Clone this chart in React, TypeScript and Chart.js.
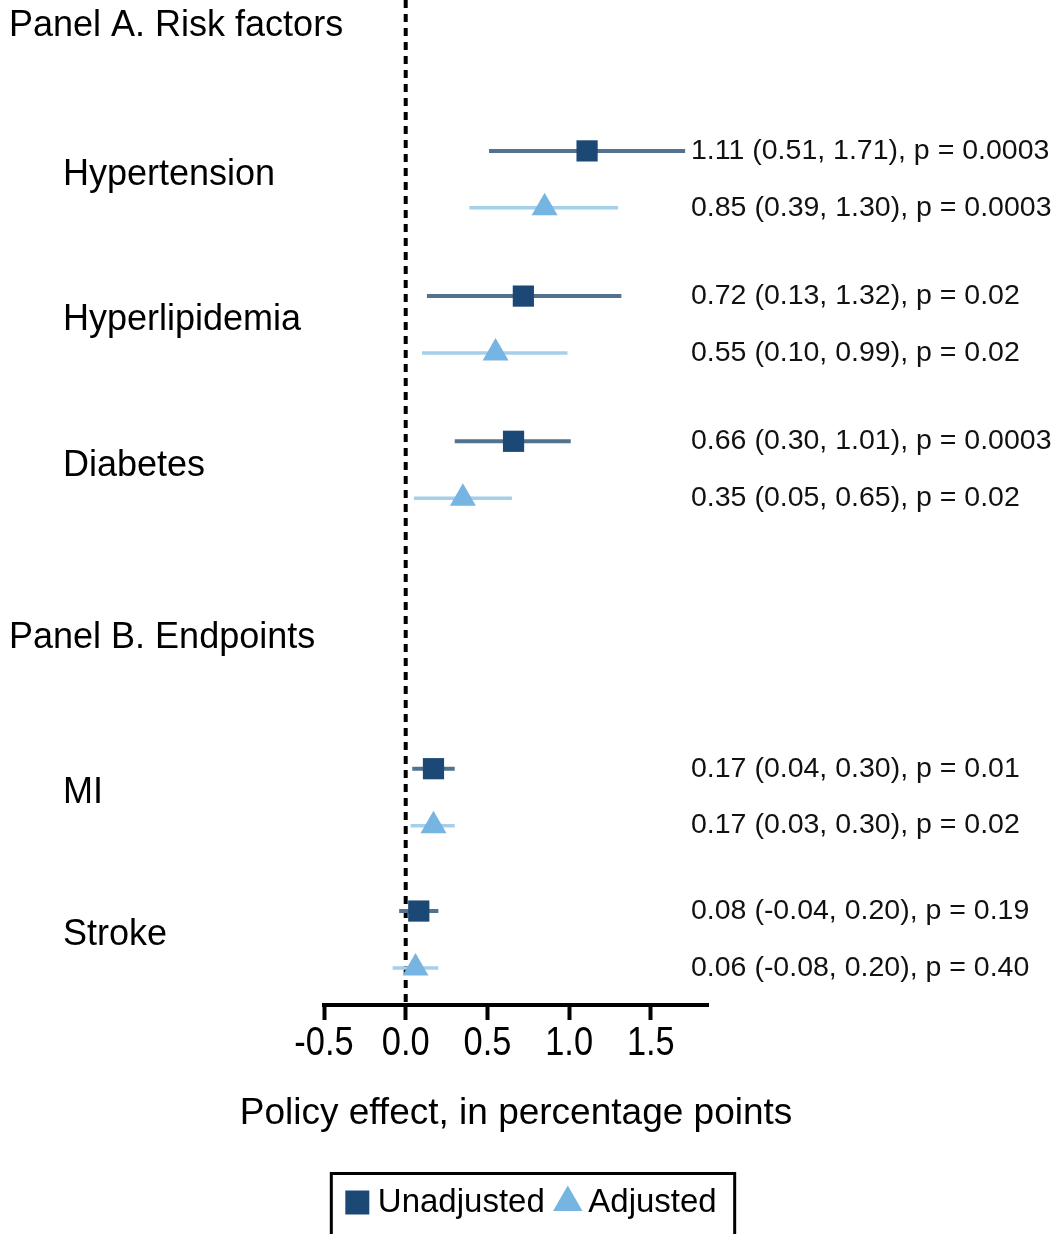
import React, { useEffect, useRef } from 'react';
import { Chart, registerables } from 'chart.js';

Chart.register(...registerables);

// ---- Data ----
const panelLabels = ['Panel A. Risk factors', 'Panel B. Endpoints'];
const panelPos = [0.93, 22.4];

const categories = ['Hypertension', 'Hyperlipidemia', 'Diabetes', 'MI', 'Stroke'];
const unadjPos = [5.3, 10.4, 15.5, 27.0, 32.0];
const adjPos = [7.3, 12.4, 17.5, 29.0, 34.0];

const unadjEst = [1.11, 0.72, 0.66, 0.17, 0.08];
const unadjLo = [0.51, 0.13, 0.3, 0.04, -0.04];
const unadjHi = [1.71, 1.32, 1.01, 0.3, 0.2];
const unadjP = ['0.0003', '0.02', '0.0003', '0.01', '0.19'];

const adjEst = [0.85, 0.55, 0.35, 0.17, 0.06];
const adjLo = [0.39, 0.1, 0.05, 0.03, -0.08];
const adjHi = [1.3, 0.99, 0.65, 0.3, 0.2];
const adjP = ['0.0003', '0.02', '0.02', '0.02', '0.40'];

const xTicks = [-0.5, 0, 0.5, 1.0, 1.5];
const xMin = -0.5;
const xMax = 1.85;
const yMin = 0;
const yMax = 35.3;

const seriesNames = ['Unadjusted', 'Adjusted'];
const xTitle = 'Policy effect, in percentage points';

// ---- Styles ----
const FONT = "'Liberation Sans', Arial, Helvetica, sans-serif";
const UNADJ_MARK = '#1b4874';
const UNADJ_LINE = '#52728e';
const ADJ_MARK = '#76b5e2';
const ADJ_LINE = '#a5cfea';

const fmt = (v: number) => v.toFixed(2);

const forestPlugin = {
  id: 'forestPlugin',
  beforeDatasetsDraw(chart: any) {
    const { ctx, chartArea } = chart;
    const xs = chart.scales.x;
    const ys = chart.scales.y;
    ctx.save();
    // zero reference line
    const x0 = xs.getPixelForValue(0);
    ctx.strokeStyle = '#000';
    ctx.lineWidth = 4;
    ctx.setLineDash([8, 6]);
    ctx.beginPath();
    ctx.moveTo(x0, chartArea.top);
    ctx.lineTo(x0, chartArea.bottom);
    ctx.stroke();
    ctx.setLineDash([]);
    // confidence intervals
    const drawCI = (lo: number[], hi: number[], pos: number[], color: string, w: number) => {
      ctx.strokeStyle = color;
      ctx.lineWidth = w;
      lo.forEach((l, i) => {
        const y = ys.getPixelForValue(pos[i]);
        ctx.beginPath();
        ctx.moveTo(xs.getPixelForValue(l), y);
        ctx.lineTo(xs.getPixelForValue(hi[i]), y);
        ctx.stroke();
      });
    };
    drawCI(unadjLo, unadjHi, unadjPos, UNADJ_LINE, 4);
    drawCI(adjLo, adjHi, adjPos, ADJ_LINE, 3.5);
    ctx.restore();
  },
  afterDraw(chart: any) {
    const { ctx, chartArea } = chart;
    const xs = chart.scales.x;
    const ys = chart.scales.y;
    ctx.save();
    ctx.fillStyle = '#000';
    ctx.textBaseline = 'middle';
    ctx.textAlign = 'left';
    // panel labels
    ctx.font = `36px ${FONT}`;
    panelLabels.forEach((t, i) => {
      ctx.fillText(t, 9, ys.getPixelForValue(panelPos[i]));
    });
    // category labels
    categories.forEach((t, i) => {
      const c = (unadjPos[i] + adjPos[i]) / 2;
      ctx.fillText(t, 63, ys.getPixelForValue(c) - 4);
    });
    // x tick labels (condensed, from the axis ticks)
    ctx.font = `40px ${FONT}`;
    ctx.textAlign = 'center';
    xs.ticks.forEach((tk: any) => {
      const px = xs.getPixelForValue(tk.value);
      ctx.save();
      ctx.translate(px, chartArea.bottom + 38.5);
      ctx.scale(0.86, 1);
      ctx.fillText(Number(tk.value).toFixed(1), 0, 0);
      ctx.restore();
    });
    // x axis title
    ctx.font = `37px ${FONT}`;
    ctx.fillText(xTitle, (chartArea.left + chartArea.right) / 2, chartArea.bottom + 109);
    // annotations
    ctx.textAlign = 'left';
    ctx.font = `28.5px ${FONT}`;
    ctx.fillStyle = '#111';
    const ax = 691;
    categories.forEach((_, i) => {
      ctx.fillText(
        `${fmt(unadjEst[i])} (${fmt(unadjLo[i])}, ${fmt(unadjHi[i])}), p = ${unadjP[i]}`,
        ax,
        ys.getPixelForValue(unadjPos[i])
      );
      ctx.fillText(
        `${fmt(adjEst[i])} (${fmt(adjLo[i])}, ${fmt(adjHi[i])}), p = ${adjP[i]}`,
        ax,
        ys.getPixelForValue(adjPos[i])
      );
    });
    // legend frame
    const lg = chart.legend;
    if (lg && lg.legendHitBoxes && lg.legendHitBoxes.length) {
      const hb = lg.legendHitBoxes;
      const first = hb[0];
      const last = hb[hb.length - 1];
      const left = first.left - 22;
      const right = last.left + last.width + 18;
      const cy = first.top + first.height / 2;
      const top = cy - 29;
      ctx.strokeStyle = '#000';
      ctx.lineWidth = 3;
      ctx.beginPath();
      ctx.moveTo(left, chart.height + 10);
      ctx.lineTo(left, top);
      ctx.lineTo(right, top);
      ctx.lineTo(right, chart.height + 10);
      ctx.stroke();
    }
    ctx.restore();
  },
};

export default function App() {
  const ref = useRef<HTMLCanvasElement | null>(null);

  useEffect(() => {
    document.body.style.margin = '0';
    const canvas = ref.current;
    if (!canvas) return;
    const chart = new Chart(canvas, {
      type: 'scatter',
      data: {
        datasets: [
          {
            label: seriesNames[0],
            data: unadjEst.map((v, i) => ({ x: v, y: unadjPos[i] })),
            pointStyle: 'rect',
            pointRadius: 15,
            pointHoverRadius: 15,
            backgroundColor: UNADJ_MARK,
            borderColor: 'rgba(0,0,0,0)',
            borderWidth: 0,
            pointBorderWidth: 0,
            clip: false,
          } as any,
          {
            label: seriesNames[1],
            data: adjEst.map((v, i) => ({ x: v, y: adjPos[i] })),
            pointStyle: 'triangle',
            pointRadius: 15,
            pointHoverRadius: 15,
            backgroundColor: ADJ_MARK,
            borderColor: 'rgba(0,0,0,0)',
            borderWidth: 0,
            pointBorderWidth: 0,
            clip: false,
          } as any,
        ],
      },
      options: {
        responsive: false,
        animation: false,
        events: [],
        layout: { autoPadding: false, padding: { top: 0, left: 16, right: 0, bottom: 5 } },
        plugins: {
          tooltip: { enabled: false },
          title: { display: false },
          legend: {
            display: true,
            position: 'bottom',
            align: 'center',
            labels: {
              usePointStyle: true,
              boxWidth: 8,
              boxHeight: 24,
              padding: 19,
              color: '#000',
              font: { family: FONT, size: 33 },
            },
          },
        },
        scales: {
          x: {
            type: 'linear',
            position: 'bottom',
            min: xMin,
            max: xMax,
            afterBuildTicks: (s: any) => {
              s.ticks = xTicks.map((v) => ({ value: v }));
            },
            afterFit: (s: any) => {
              s.height = 162;
            },
            ticks: { display: false },
            grid: {
              display: true,
              drawOnChartArea: false,
              drawTicks: true,
              tickLength: 15,
              tickWidth: 4,
              tickColor: '#000',
            },
            border: { display: true, color: '#000', width: 4 },
            title: { display: false },
          },
          y: {
            type: 'linear',
            position: 'left',
            min: yMin,
            max: yMax,
            reverse: true,
            ticks: { display: false },
            grid: { display: false },
            border: { display: false },
            afterFit: (s: any) => {
              s.width = 308;
            },
          },
          yr: {
            type: 'linear',
            position: 'right',
            ticks: { display: false },
            grid: { display: false },
            border: { display: false },
            afterFit: (s: any) => {
              s.width = 346;
            },
          },
        },
      } as any,
      plugins: [forestPlugin],
    });
    return () => chart.destroy();
  }, []);

  return (
    <div style={{ width: 1054, height: 1234 }}>
      <canvas ref={ref} width={1054} height={1234} style={{ display: 'block' }} />
    </div>
  );
}
